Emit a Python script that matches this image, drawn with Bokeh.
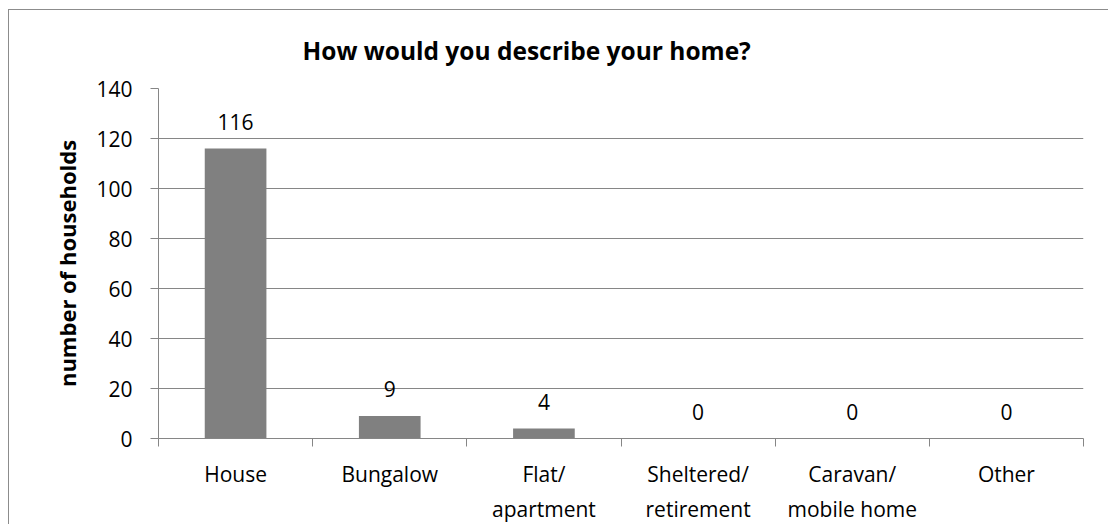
import numpy as np
from bokeh.plotting import figure
from bokeh.models import ColumnDataSource, FixedTicker, LabelSet, Range1d
from bokeh.core.properties import value
from bokeh.embed import file_html
from bokeh.resources import INLINE

# ---- data ----
categories = ["House", "Bungalow", "Flat/\napartment", "Sheltered/\nretirement",
              "Caravan/\nmobile home", "Other"]
households = [116, 9, 4, 0, 0, 0]
y_ticks = [0, 20, 40, 60, 80, 100, 120, 140]
title_text = "How would you describe your home?"
y_label = "number of households"

FONT = "Open Sans"
GRID = "#868686"
BAR = "#808080"

n = len(categories)
centers = [i + 0.5 for i in range(n)]
bounds = [float(i) for i in range(n + 1)]

src = ColumnDataSource(dict(x=centers, top=households,
                            label=[str(v) for v in households]))

p = figure(width=1100, height=515, output_backend="svg", toolbar_location=None,
           x_range=Range1d(0, n), y_range=Range1d(0, 140),
           min_border_left=149, min_border_right=26, min_border_top=78,
           min_border_bottom=87, outline_line_color=None,
           background_fill_color="white", border_fill_color="white")
p.styles = {"margin-left": "8px", "margin-top": "9px",
            "border-left": "1px solid #8c8c8c", "border-top": "1px solid #8c8c8c"}

p.title.text = title_text
p.title.align = "left"
p.title.offset = 144
p.title.vertical_align = "middle"
p.title.standoff = 42
p.title.text_font = FONT
p.title.text_font_size = "24.5px"
p.title.text_font_style = "bold"
p.title.text_color = "#000000"

p.vbar(x="x", top="top", bottom=0, width=0.4, source=src,
       fill_color=BAR, line_color=None)

p.add_layout(LabelSet(x="x", y="top", text="label", source=src,
                      y_offset=27, text_align="center", text_baseline="middle",
                      text_font=value(FONT), text_font_size=value("21px"),
                      text_color="#000000"))

# x axis
xa = p.xaxis[0]
xa.ticker = FixedTicker(ticks=centers, minor_ticks=bounds)
xa.major_label_overrides = {c: lab for c, lab in zip(centers, categories)}
xa.major_tick_line_color = None
xa.major_tick_out = 0
xa.major_tick_in = 0
xa.minor_tick_out = 8
xa.minor_tick_in = 0
xa.minor_tick_line_color = GRID
xa.axis_line_color = GRID
xa.major_label_standoff = 13
xa.major_label_text_font = FONT
xa.major_label_text_font_size = "21px"
xa.major_label_text_color = "#000000"
xa.major_label_text_line_height = 1.25

# y axis
ya = p.yaxis[0]
ya.ticker = FixedTicker(ticks=y_ticks)
ya.minor_tick_line_color = None
ya.major_tick_out = 8
ya.major_tick_in = 0
ya.major_tick_line_color = GRID
ya.axis_line_color = GRID
ya.major_label_standoff = 18
ya.major_label_text_font = FONT
ya.major_label_text_font_size = "21px"
ya.major_label_text_color = "#000000"
ya.axis_label = y_label
ya.axis_label_text_font = FONT
ya.axis_label_text_font_size = "22px"
ya.axis_label_text_font_style = "bold"
ya.axis_label_text_color = "#000000"
ya.axis_label_standoff = 11

p.xgrid.grid_line_color = None
p.ygrid.grid_line_color = GRID
p.ygrid.ticker = FixedTicker(ticks=y_ticks)

open("out.html", "w").write(file_html(p, INLINE))
